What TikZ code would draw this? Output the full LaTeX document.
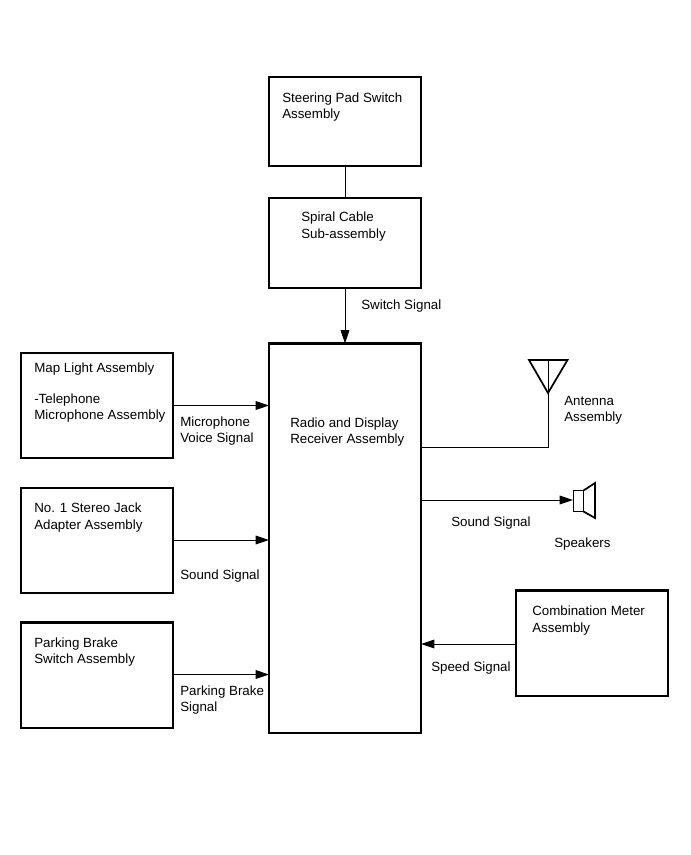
\documentclass[tikz,border=0pt]{standalone}
\usepackage{fontspec}
\setmainfont{Liberation Sans}
\usetikzlibrary{arrows.meta}
\tikzset{
 box/.style={draw,line width=1.7pt,inner sep=0pt,outer sep=0pt,anchor=north west},
 lab/.style={inner sep=0pt,anchor=north west,align=left,font=\fontsize{10pt}{12.2pt}\selectfont},
 conn/.style={line width=0.75pt},
 arr/.style={line width=0.75pt,-{Triangle[length=10pt,width=6.5pt]}},
 sym/.style={line width=1.3pt,line join=miter},
}
\begin{document}
\begin{tikzpicture}[x=0.75pt,y=-0.75pt]
\useasboundingbox (0,0) rectangle (690,855);
\fill[white] (0,0) rectangle (690,855);
\node[box,minimum width=114pt,minimum height=67pt] (steer) at (269,77) {};
\node[box,minimum width=114pt,minimum height=67.5pt] (spiral) at (269,198) {};
\node[box,minimum width=114pt,minimum height=292pt] (radio) at (269,343.5) {};
\node[box,minimum width=113.6pt,minimum height=79pt] (map) at (21.2,353) {};
\node[box,minimum width=113.6pt,minimum height=79pt] (jack) at (21.2,488) {};
\node[box,minimum width=113.6pt,minimum height=79pt] (park) at (21.2,622.5) {};
\node[box,minimum width=114pt,minimum height=79pt] (meter) at (516,590.5) {};
\node[lab] (t1) at (282,92.5) {Steering Pad Switch\\Assembly};
\node[lab] (t2) at (301,212) {Spiral Cable\\Sub-assembly};
\node[lab] (t3) at (290,417.5) {Radio and Display\\Receiver Assembly};
\node[lab] (t4) at (34,363) {Map Light Assembly};
\node[lab] (t5) at (34,393.5) {-Telephone\\Microphone Assembly};
\node[lab] (t6) at (34,503) {No. 1 Stereo Jack\\Adapter Assembly};
\node[lab] (t7) at (34,637.5) {Parking Brake\\Switch Assembly};
\node[lab] (t8) at (532,606) {Combination Meter\\Assembly};
\node[lab] (t9) at (361,299.5) {Switch Signal};
\node[lab] (t10) at (180,416.5) {Microphone\\Voice Signal};
\node[lab] (t11) at (180,570) {Sound Signal};
\node[lab] (t12) at (180,685.5) {Parking Brake\\Signal};
\node[lab] (t13) at (451,517) {Sound Signal};
\node[lab] (t14) at (431,661.5) {Speed Signal};
\node[lab] (t15) at (564,396) {Antenna\\Assembly};
\node[lab] (t16) at (554,537.5) {Speakers};
\draw[conn] (steer.south) -- (spiral.north);
\draw[arr] (spiral.south) -- (radio.north);
\draw[arr] (map.east |- 0,405.5) -- (radio.west |- 0,405.5);
\draw[arr] (jack.east |- 0,540) -- (radio.west |- 0,540);
\draw[arr] (park.east |- 0,674.5) -- (radio.west |- 0,674.5);
\draw[arr] (meter.west |- 0,644) -- (radio.east |- 0,644);
\coordinate (ant) at (548,393);
\draw[conn] (radio.east |- 0,447) -- (548,447) -- (ant);
\draw[sym] (529,360) -- (567.5,360) -- (548,393) -- cycle;
\draw[conn] (548,360) -- (ant);
\coordinate (spk) at (573,500);
\draw[arr] (radio.east |- 0,500) -- (spk);
\draw[sym] (573.5,490.5) rectangle (583.5,511.5);
\draw[sym] (583.5,490.5) -- (595,483) -- (595,518) -- (583.5,511.5);
\end{tikzpicture}
\end{document}
